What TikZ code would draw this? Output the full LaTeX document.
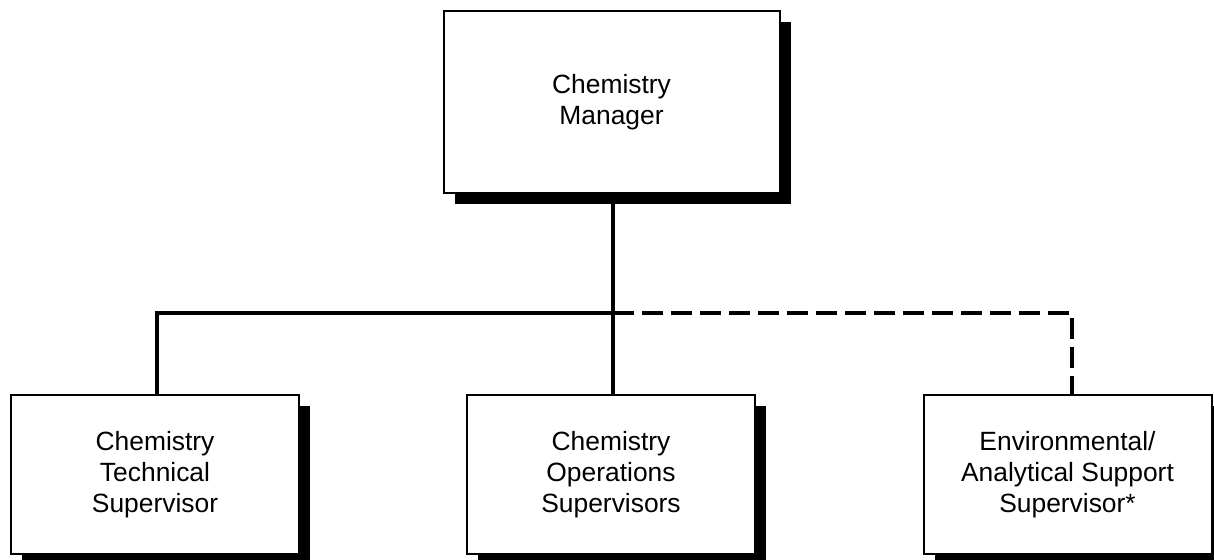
\documentclass[tikz,border=0pt]{standalone}
\usepackage{fontspec}
\setmainfont{Liberation Sans}
\usetikzlibrary{shadows}
\usetikzlibrary{positioning}
\tikzset{
  orgbox/.style={draw=black,line width=1pt,fill=white,align=center,
    font=\fontsize{13.2}{15.5}\selectfont,inner sep=0pt,
    drop shadow={shadow xshift=5.5pt,shadow yshift=-5.5pt,opacity=1,fill=black}},
  bigbox/.style={orgbox,minimum width=168pt,minimum height=91pt},
  smallbox/.style={orgbox,minimum width=144pt,minimum height=79pt},
}
\begin{document}
\begin{tikzpicture}[x=0.5pt,y=-0.5pt]
  \useasboundingbox (0,0) rectangle (1214,560);
  \tikzset{
    orgline/.style={line width=2.4pt},
    dotline/.style={orgline,dash pattern=on 10.5pt off 4pt},
  }
  %TOP
  \node[bigbox] (mgr) at (611.5,102) {Chemistry\\Manager};
  %BOTTOM ROW
  \node[smallbox] (tech) at (155,474.5) {Chemistry\\Technical\\Supervisor};
  \node[smallbox] (ops) at (611,474.5) {Chemistry\\Operations\\Supervisors};
  \node[smallbox] (env) at (1067.5,474.5) {Environmental/\\Analytical Support\\Supervisor*};
  %JOINS
  \coordinate (hub) at (613,313);
  \coordinate (ljoin) at (157,313);
  \coordinate (rjoin) at (1072,313);
  %LINES
  \draw[orgline] (mgr.south -| hub) -- (ops.north -| hub);
  \draw[orgline] (hub) -- (ljoin) -- (ljoin |- tech.north);
  \draw[dotline] (hub) -- (rjoin) -- (rjoin |- env.north);
\end{tikzpicture}
\end{document}
